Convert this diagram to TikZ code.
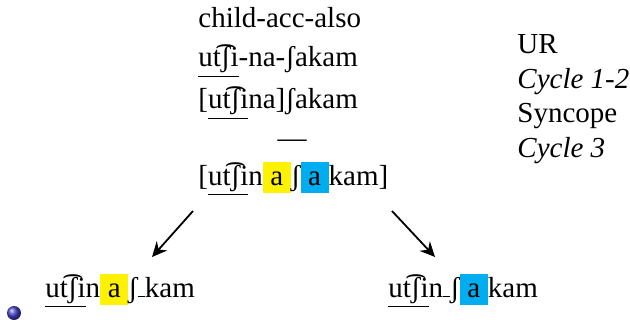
\documentclass[tikz,border=0pt]{standalone}
\usepackage{fontspec}
\setmainfont{Liberation Serif}
\usetikzlibrary{arrows.meta}
\definecolor{hlyellow}{RGB}{255,242,0}
\definecolor{hlblue}{RGB}{0,174,239}
\definecolor{ballblue}{RGB}{70,70,210}
\newcommand{\hlbox}[2]{{\setlength{\fboxsep}{0pt}\colorbox{#1}{\rule[-4pt]{0pt}{15.5pt}\hspace{3.8pt}#2\hspace{3.8pt}}}}
\newcommand{\gapmark}{\rule{3.5pt}{0.4pt}}
\begin{document}
\begin{tikzpicture}[x=0.5pt,y=-0.5pt,
  txt/.style={inner sep=0pt,anchor=base west,font=\fontsize{14.5pt}{17pt}\selectfont},
  arr/.style={line width=0.9pt,-{Stealth[length=7.5pt,width=7pt,inset=2.5pt]}}]
\useasboundingbox (0,0) rectangle (630,320);
\node[txt] (l1) at (198,28) {child-acc-also};
\node[txt] (l2) at (198,67) {\underline{ut͡ʃi}-na-ʃakam};
\node[txt] (l3) at (198,109) {[\underline{ut͡ʃi}na]ʃakam};
\node[txt,anchor=base] (dash) at (292,148) {—};
\node[txt] (l5) at (198,185) {[\underline{ut͡ʃi}n\hlbox{hlyellow}{a}ʃ\hlbox{hlblue}{a}kam]};
\node[txt] (ur) at (517,54) {UR};
\node[txt] (c12) at (517,89) {\itshape Cycle 1-2};
\node[txt] (syn) at (517,123) {Syncope};
\node[txt] (c3) at (517,157) {\itshape Cycle 3};
\node[txt] (bl) at (45,297) {\underline{ut͡ʃi}n\hlbox{hlyellow}{a}ʃ\gapmark kam};
\node[txt] (br) at (388,297) {\underline{ut͡ʃi}n\gapmark ʃ\hlbox{hlblue}{a}kam};
\coordinate (a1s) at (193,211);
\coordinate (a1e) at (152,257);
\coordinate (a2s) at (392,211);
\coordinate (a2e) at (435,257);
\draw[arr] (a1s) -- (a1e);
\draw[arr] (a2s) -- (a2e);
\node[circle,inner sep=0pt,minimum size=7pt,ball color=ballblue] (ball) at (14,313) {};
\end{tikzpicture}
\end{document}
